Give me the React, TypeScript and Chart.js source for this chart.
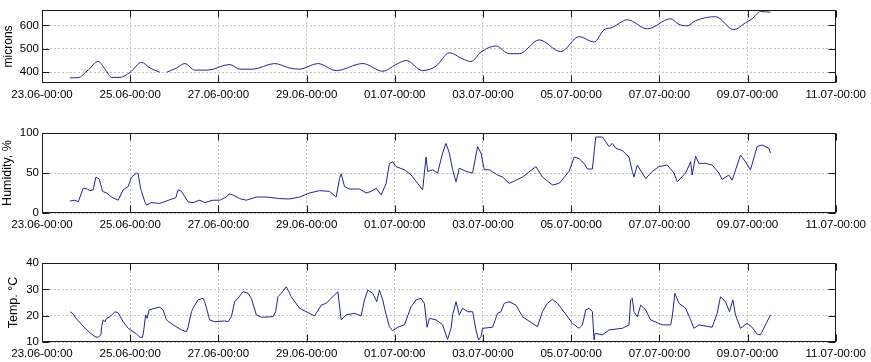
import React, { useEffect, useRef } from 'react';
import { Chart, registerables } from 'chart.js';

Chart.register(...registerables);

// x axis: days since 23.06-00:00
const xTickLabels = [
  '23.06-00:00', '25.06-00:00', '27.06-00:00', '29.06-00:00', '01.07-00:00',
  '03.07-00:00', '05.07-00:00', '07.07-00:00', '09.07-00:00', '11.07-00:00',
];

const micronTicks = [400, 500, 600];
const humidityTicks = [0, 50, 100];
const tempTicks = [10, 20, 30, 40];

// [day, microns]
const micronReadings: [number, number | null][] = [
  [0.634, 376], [0.815, 377], [1.05, 410], [1.275, 446], [1.43, 413], [1.585, 378], [1.766, 378],
  [2.0, 400], [2.257, 442], [2.45, 418], [2.671, 400], [2.75, null], [2.83, 400], [3.05, 418],
  [3.238, 437], [3.464, 409], [3.758, 409], [4.256, 433], [4.483, 413], [4.777, 413], [5.275, 437],
  [5.615, 418], [5.841, 413], [6.255, 437], [6.672, 407], [7.274, 437], [7.727, 404], [8.03, 433],
  [8.257, 450], [8.632, 407], [8.936, 426], [9.237, 483], [9.538, 457], [9.728, 446], [9.955, 486],
  [10.294, 512], [10.595, 479], [10.822, 479], [11.275, 538], [11.766, 488], [12.18, 552],
  [12.52, 529], [12.746, 581], [12.934, 591], [13.274, 624], [13.727, 585], [14.256, 628],
  [14.444, 604], [14.632, 598], [14.822, 620], [15.275, 637], [15.689, 582], [15.954, 611],
  [16.103, 628], [16.292, 659], [16.52, 656],
];

// [day, humidity %]
const humidityReadings: [number, number][] = [
  [0.634, 15], [0.747, 16], [0.822, 14], [0.935, 31], [1.026, 30], [1.087, 28], [1.161, 29],
  [1.223, 45], [1.297, 42.5], [1.374, 27], [1.465, 25], [1.578, 20], [1.727, 16], [1.841, 29],
  [1.954, 33], [2.031, 45], [2.144, 50], [2.18, 49], [2.235, 31], [2.257, 27], [2.332, 14],
  [2.37, 10], [2.484, 13], [2.671, 12], [2.973, 18], [3.034, 19], [3.086, 29], [3.163, 27],
  [3.312, 14], [3.425, 13], [3.577, 16], [3.69, 13], [3.878, 16], [4.03, 16], [4.182, 20],
  [4.24, 24], [4.331, 22.5], [4.483, 18], [4.634, 16], [4.861, 20], [5.087, 20], [5.388, 18],
  [5.615, 17.5], [5.841, 20], [6.067, 25], [6.294, 28], [6.52, 27], [6.672, 20], [6.747, 43],
  [6.785, 49], [6.86, 33], [6.973, 30], [7.199, 30], [7.351, 25], [7.464, 27], [7.578, 31],
  [7.691, 22.5], [7.804, 37], [7.879, 62], [7.954, 64], [8.03, 58], [8.218, 54], [8.37, 47.5],
  [8.519, 37], [8.632, 29], [8.709, 70], [8.746, 52], [8.859, 54], [8.972, 50], [9.085, 75],
  [9.162, 87], [9.237, 75], [9.312, 54], [9.389, 39], [9.463, 56], [9.615, 52], [9.765, 50],
  [9.878, 83], [9.955, 75], [10.029, 54], [10.143, 54], [10.331, 47.5], [10.444, 45],
  [10.595, 37], [10.747, 41], [10.897, 45], [11.2, 58], [11.349, 45], [11.576, 35], [11.727, 37],
  [11.954, 52], [12.067, 70], [12.18, 68], [12.293, 62], [12.368, 55], [12.481, 55], [12.558, 95],
  [12.708, 95], [12.785, 89], [12.859, 83], [12.934, 87], [13.011, 81], [13.16, 78], [13.312, 70],
  [13.387, 52], [13.425, 45], [13.5, 60], [13.69, 43], [13.84, 52], [13.991, 58], [14.179, 60],
  [14.331, 50], [14.406, 39], [14.596, 50], [14.709, 64], [14.745, 47.5], [14.822, 71],
  [14.897, 62], [15.048, 62], [15.198, 60], [15.35, 50], [15.424, 42], [15.576, 47.5],
  [15.651, 41], [15.841, 72.5], [15.954, 64], [16.067, 54], [16.217, 83], [16.33, 85],
  [16.481, 81], [16.52, 75],
];

// [day, temperature °C]
const tempReadings: [number, number][] = [
  [0.634, 21.5], [0.709, 20.6], [0.786, 18.7], [1.012, 14.6], [1.2, 12], [1.275, 11.8],
  [1.336, 12.7], [1.352, 15.8], [1.388, 18.4], [1.426, 17.7], [1.465, 19], [1.54, 19.6],
  [1.653, 21.5], [1.727, 21.1], [1.841, 17.7], [1.954, 15.2], [2.144, 13], [2.219, 11.8],
  [2.28, 11.8], [2.309, 14.6], [2.348, 20.3], [2.384, 19], [2.429, 22.2], [2.558, 22.8],
  [2.671, 23.2], [2.746, 22.2], [2.823, 18.4], [2.973, 16.5], [3.163, 14.6], [3.276, 13.9],
  [3.312, 15.6], [3.389, 21.5], [3.425, 22.8], [3.539, 26], [3.652, 26.6], [3.69, 25.3],
  [3.803, 18.4], [3.917, 17.7], [4.143, 18], [4.218, 17.7], [4.295, 19.6], [4.369, 25.3],
  [4.444, 26.6], [4.557, 29.1], [4.671, 28.5], [4.748, 26.6], [4.861, 20.3], [4.974, 19.4],
  [5.237, 19.6], [5.298, 21.5], [5.35, 27.2], [5.427, 28.5], [5.54, 31], [5.599, 29.1],
  [5.653, 27.2], [5.841, 22.8], [5.993, 21.5], [6.181, 19.9], [6.332, 24], [6.446, 24.7],
  [6.559, 26.6], [6.708, 29.1], [6.785, 18.4], [6.898, 20.3], [7.086, 20.9], [7.238, 19.9],
  [7.313, 26], [7.387, 29.7], [7.501, 28.5], [7.591, 25.3], [7.652, 29.7], [7.727, 26],
  [7.804, 20.3], [7.879, 15.8], [7.954, 14.3], [8.067, 15.6], [8.218, 16.5], [8.37, 23.4],
  [8.483, 26], [8.596, 26.6], [8.671, 24.7], [8.732, 15.6], [8.784, 19], [8.936, 18.4],
  [9.085, 16.5], [9.198, 11], [9.276, 15.2], [9.312, 20.3], [9.389, 25.3], [9.463, 20.3],
  [9.538, 22.8], [9.651, 21.5], [9.765, 21.5], [9.841, 14.6], [9.9, 10.8], [9.955, 12],
  [9.991, 15.2], [10.217, 15.6], [10.331, 20.9], [10.408, 21.5], [10.482, 24.7], [10.595, 25.3],
  [10.747, 24], [10.897, 19.6], [11.236, 15.8], [11.349, 21.5], [11.463, 24.7], [11.576, 26.2],
  [11.689, 24.7], [11.802, 22.2], [12.029, 17.1], [12.18, 15.2], [12.255, 16.5], [12.332, 22.2],
  [12.407, 22.8], [12.481, 21.5], [12.519, 10.8], [12.542, 13.3], [12.708, 12.7], [12.859, 14.6],
  [13.16, 15.2], [13.312, 16.5], [13.35, 26], [13.387, 26.6], [13.425, 21.5], [13.5, 19.6],
  [13.577, 24], [13.69, 22.2], [13.803, 18.4], [14.066, 16.5], [14.256, 16.5], [14.292, 19.6],
  [14.353, 28.5], [14.444, 24.7], [14.596, 22.8], [14.709, 18.4], [14.784, 15.2], [14.897, 16.5],
  [15.198, 15.6], [15.311, 20.9], [15.387, 27.2], [15.5, 25.3], [15.591, 21.5], [15.666, 26],
  [15.727, 20.3], [15.841, 15.2], [15.99, 17.1], [16.103, 15.6], [16.217, 13], [16.293, 12.7],
  [16.52, 20.3],
];

const FONT_FAMILY = '"Liberation Sans", Arial, Helvetica, sans-serif';
const LINE_COLOR = '#24248c';
const GRID_COLOR = '#c4c4c4';
const AXIS_COLOR = '#1a1a1a';

type PanelSpec = {
  readings: [number, number | null][];
  yMin: number;
  yMax: number;
  yTicks: number[];
  title: string;
  titleSize: number;
  titlePadTop: number;
  top: number;
  height: number;
  plotTop: number;
  plotBottom: number;
  smooth: boolean;
};

const panels: PanelSpec[] = [
  { readings: micronReadings, yMin: 354, yMax: 666, yTicks: micronTicks, title: 'microns', titleSize: 12, titlePadTop: 1,
    top: 0, height: 120, plotTop: 4, plotBottom: 83, smooth: true },
  { readings: humidityReadings, yMin: 0, yMax: 100, yTicks: humidityTicks, title: 'Humidity, %', titleSize: 12.5, titlePadTop: 0,
    top: 120, height: 120, plotTop: 13, plotBottom: 93, smooth: false },
  { readings: tempReadings, yMin: 10, yMax: 40, yTicks: tempTicks, title: 'Temp. °C', titleSize: 12.5, titlePadTop: 6,
    top: 240, height: 122, plotTop: 23, plotBottom: 102, smooth: false },
];

const boxPlugin = {
  id: 'matlabBox',
  afterDraw(chart: any) {
    const { ctx, chartArea } = chart;
    const l = Math.round(chartArea.left) + 0.5;
    const t = Math.round(chartArea.top) + 0.5;
    const r = Math.round(chartArea.right) - 0.5;
    const b = Math.round(chartArea.bottom) - 0.5;
    ctx.save();
    ctx.strokeStyle = AXIS_COLOR;
    ctx.lineWidth = 1;
    ctx.setLineDash([]);
    ctx.strokeRect(l, t, r - l, b - t);
    const tl = 7;
    ctx.beginPath();
    const xs = chart.scales.x;
    xs.ticks.forEach((tk: any) => {
      const px = Math.round(xs.getPixelForValue(tk.value)) + 0.5;
      ctx.moveTo(px, b); ctx.lineTo(px, b - tl);
      ctx.moveTo(px, t); ctx.lineTo(px, t + tl);
    });
    const ys = chart.scales.y;
    ys.ticks.forEach((tk: any) => {
      const py = Math.round(ys.getPixelForValue(tk.value)) + 0.5;
      ctx.moveTo(l, py); ctx.lineTo(l + tl, py);
      ctx.moveTo(r, py); ctx.lineTo(r - tl, py);
    });
    ctx.stroke();
    ctx.restore();
  },
};

function Panel({ spec }: { spec: PanelSpec }) {
  const ref = useRef<HTMLCanvasElement | null>(null);
  useEffect(() => {
    if (!ref.current) return;
    const axisHeight = spec.height - spec.plotBottom;
    const chart = new Chart(ref.current, {
      type: 'line',
      data: {
        datasets: [
          {
            data: spec.readings.map(([d, v]) => ({ x: d, y: v })),
            borderColor: LINE_COLOR,
            borderWidth: 1,
            pointRadius: 0,
            fill: false,
            spanGaps: false,
            cubicInterpolationMode: spec.smooth ? 'monotone' : 'default',
            tension: 0,
          } as any,
        ],
      },
      options: {
        animation: false,
        responsive: false,
        maintainAspectRatio: false,
        layout: { padding: { top: spec.plotTop, right: 34, left: 0, bottom: 0 }, autoPadding: false } as any,
        plugins: { legend: { display: false }, tooltip: { enabled: false } },
        scales: {
          x: {
            type: 'linear',
            min: 0,
            max: 18,
            afterBuildTicks: (s: any) => {
              s.ticks = xTickLabels.map((_, i) => ({ value: i * 2 }));
            },
            afterFit: (s: any) => { s.height = axisHeight; },
            ticks: {
              callback: (v: any) => xTickLabels[Math.round(Number(v) / 2)],
              autoSkip: false,
              maxRotation: 0,
              minRotation: 0,
              padding: 5,
              color: '#000',
              font: { family: FONT_FAMILY, size: 11.5 },
            },
            grid: { color: GRID_COLOR, drawTicks: false, lineWidth: 1 },
            border: { display: false, dash: [2, 2] },
          },
          y: {
            type: 'linear',
            min: spec.yMin,
            max: spec.yMax,
            afterBuildTicks: (s: any) => {
              s.ticks = spec.yTicks.map((v) => ({ value: v }));
            },
            afterFit: (s: any) => { s.width = 42; },
            ticks: {
              padding: 3,
              color: '#000',
              font: { family: FONT_FAMILY, size: 11.5 },
            },
            grid: { color: GRID_COLOR, drawTicks: false, lineWidth: 1 },
            border: { display: false, dash: [2, 2] },
            title: {
              display: true,
              text: spec.title,
              color: '#000',
              font: { family: FONT_FAMILY, size: spec.titleSize },
              padding: { top: spec.titlePadTop, bottom: 0 },
            },
          },
        },
      },
      plugins: [boxPlugin],
    });
    return () => chart.destroy();
  }, [spec]);
  return (
    <canvas
      ref={ref}
      width={871}
      height={spec.height}
      style={{ position: 'absolute', left: 0, top: spec.top, width: 871, height: spec.height, display: 'block' }}
    />
  );
}

export default function App() {
  return (
    <div style={{ position: 'absolute', left: 0, top: 0, width: 871, height: 362, background: '#fff', overflow: 'hidden' }}>
      {panels.map((p, i) => (
        <Panel key={i} spec={p} />
      ))}
    </div>
  );
}
